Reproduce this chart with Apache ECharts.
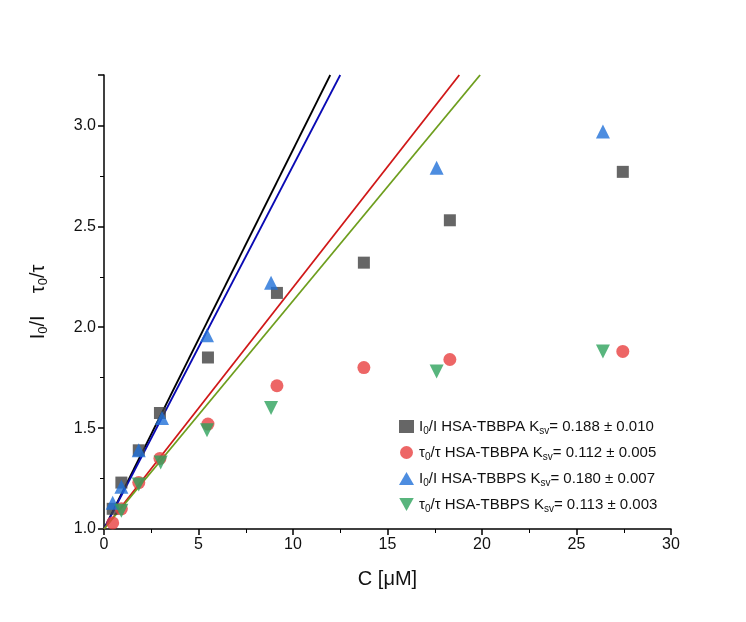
<!DOCTYPE html><html><head><meta charset="utf-8"><script src="https://cdn.jsdelivr.net/npm/echarts@6/dist/echarts.min.js"></script></head><body style="margin:0"><div id="c" style="width:746px;height:622px"></div><script>
const xA=[0.46,0.92,1.84,2.96,5.5,9.15,13.75,18.3,27.45];
const yA=[1.10,1.23,1.39,1.575,1.85,2.17,2.32,2.53,2.77];
const xB=[0.46,0.92,1.84,2.96,5.5,9.15,13.75,18.3,27.45];
const yB=[1.03,1.10,1.23,1.35,1.52,1.71,1.80,1.84,1.88];
const xC=[0.46,0.92,1.84,3.07,5.45,8.84,17.6,26.4];
const yC=[1.13,1.21,1.39,1.55,1.96,2.22,2.79,2.97];
const xD=[0.92,1.84,3.0,5.45,8.84,17.6,26.4];
const yD=[1.09,1.22,1.33,1.49,1.60,1.78,1.88];
const fitA=[[0,1.0],[11.97,3.25]], fitB=[[0,1.0],[18.8,3.25]], fitC=[[0,1.0],[12.5,3.25]], fitD=[[0,1.0],[19.9,3.25]];
const z=(x,y)=>x.map((v,i)=>[v,y[i]]);
const names=['A','B','C','D'];
const labels={A:'{n|I}{s|0}{n|/I HSA-TBBPA K}{s|sv}{n|= 0.188 ± 0.010}',B:'{n|τ}{s|0}{n|/τ HSA-TBBPA K}{s|sv}{n|= 0.112 ± 0.005}',C:'{n|I}{s|0}{n|/I HSA-TBBPS K}{s|sv}{n|= 0.180 ± 0.007}',D:'{n|τ}{s|0}{n|/τ HSA-TBBPS K}{s|sv}{n|= 0.113 ± 0.003}'};
const ax={lineStyle:{color:'#000',width:1.5}};
const ch=echarts.init(document.getElementById('c'));
const line=(d,c)=>({type:'line',data:d,showSymbol:false,symbol:'none',lineStyle:{color:c,width:1.8},silent:true,z:1});
ch.setOption({animation:false,
grid:{left:104,right:75,top:75,bottom:93},
legend:{left:394,top:414,orient:'vertical',itemGap:9,itemWidth:15,itemHeight:13,data:names,formatter:n=>labels[n],
 textStyle:{rich:{n:{fontFamily:'Liberation Sans',fontSize:15,color:'#111'},s:{fontFamily:'Liberation Sans',fontSize:10,color:'#111',verticalAlign:'bottom',padding:[9,0,0,0]}}}},
xAxis:{type:'value',min:0,max:30,interval:5,name:'C [μM]',nameLocation:'middle',nameGap:40,nameTextStyle:{fontFamily:'Liberation Sans',fontSize:20,color:'#111'},
 axisLine:ax,axisTick:{inside:false,length:6,lineStyle:{width:1.5}},minorTick:{show:true,splitNumber:2,length:4},splitLine:{show:false},axisLabel:{fontFamily:'Liberation Sans',fontSize:16,color:'#111'}},
yAxis:{type:'value',min:1.0,max:3.25,interval:0.5,name:'{n|I}{s|0}{n|/I    τ}{s|0}{n|/τ}',nameLocation:'middle',nameGap:54,nameRotate:90,
 nameTextStyle:{rich:{n:{fontFamily:'Liberation Sans',fontSize:20,color:'#111'},s:{fontFamily:'Liberation Sans',fontSize:13,color:'#111',verticalAlign:'bottom',padding:[10,0,0,0]}}},
 axisLine:{show:true,lineStyle:{color:'#000',width:1.5}},axisTick:{length:6,lineStyle:{width:1.5}},minorTick:{show:true,splitNumber:2,length:4},splitLine:{show:false},
 axisLabel:{fontFamily:'Liberation Sans',fontSize:16,color:'#111',formatter:v=>v.toFixed(1),showMaxLabel:false}},
series:[
 line(fitA,'#000'),line(fitC,'#0a0ab4'),line(fitB,'#d01818'),line(fitD,'#6e9e1e'),
 {name:'A',type:'scatter',symbol:'rect',symbolSize:12,data:z(xA,yA),itemStyle:{color:'#404040'},z:3},
 {name:'B',type:'scatter',symbol:'circle',symbolSize:13,data:z(xB,yB),itemStyle:{color:'#e84040'},z:3},
 {name:'C',type:'scatter',symbol:'triangle',symbolSize:14,data:z(xC,yC),itemStyle:{color:'#2070d8'},z:3},
 {name:'D',type:'scatter',symbol:'path://M0,0 L10,0 L5,9 Z',symbolSize:14,data:z(xD,yD),itemStyle:{color:'#2ea35c'},z:3}
]});
</script></body></html>
